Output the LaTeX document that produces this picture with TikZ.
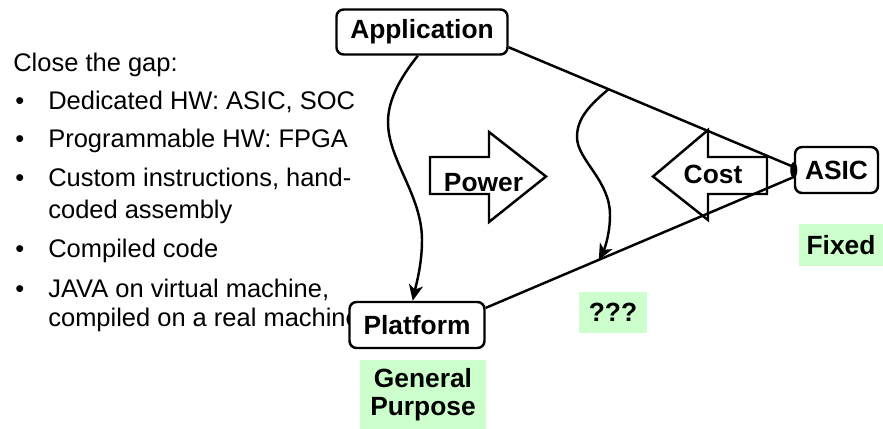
\documentclass[tikz,border=0pt]{standalone}
\usepackage{fontspec}
\setmainfont{Liberation Sans}
\usetikzlibrary{arrows.meta}
\definecolor{gapgreen}{HTML}{CCFFCC}
\begin{document}
\begin{tikzpicture}[x=0.02cm, y=-0.02cm,
  txt/.style={anchor=base west, inner sep=0pt, font=\fontsize{14.5}{17}\selectfont},
  box/.style={draw=black, line width=1.4pt, rounded corners=4pt, fill=white, inner sep=0pt, font=\fontsize{15}{17}\selectfont\bfseries},
  tag/.style={fill=gapgreen, inner sep=0pt, align=center, font=\fontsize{15}{16}\selectfont\bfseries},
  link/.style={line width=1.4pt},
  wavy/.style={line width=1.4pt, -{Stealth[length=9pt, width=8pt, inset=2.5pt]}},
  fat/.style={draw=black, line width=1.4pt, line join=miter}]
\useasboundingbox (0,0) rectangle (883,429);
% left list
\node[txt] (gap) at (13,72) {Close the gap:};
\foreach \y in {110,148,187,257,297}
  \node[txt] (dot\y) at (15,\y) {•};
\node[txt] (i1) at (48,110) {Dedicated HW: ASIC, SOC};
\node[txt] (i2) at (48,148) {Programmable HW: FPGA};
\node[txt] (i3) at (48,187) {Custom instructions, hand-};
\node[txt] (i3b) at (48,218) {coded assembly};
\node[txt] (i4) at (48,257) {Compiled code};
\node[txt] (i5) at (48,297) {JAVA on virtual machine,};
\node[txt] (i5b) at (48,326) {compiled on a real machine};
% the triangle
\node[box, minimum width=3.42cm, minimum height=0.9cm] (app) at (422,32) {Application};
\node[box, minimum width=2.7cm, minimum height=0.92cm] (plat) at (417,325) {Platform};
\node[box, minimum width=1.66cm, minimum height=0.92cm] (asic) at (836.5,170) {ASIC};
\coordinate (meetA) at ([yshift=1.7pt]asic.west);
\coordinate (meetB) at ([yshift=-4pt]asic.west);
\draw[link] (app.-10) -- coordinate[pos=0.35] (drop) (meetA);
\draw[link] (meetB) -- coordinate[pos=0.633] (land) (plat.14);
\fill (asic.west) ellipse (2pt and 4.5pt);
% big arrows
\draw[fat] (430,157) -- (489,157) -- (489,132) -- (546,176.5) -- (489,222) -- (489,194) -- (430,194) -- cycle;
\node[font=\fontsize{15}{17}\selectfont\bfseries, inner sep=0pt] (pow) at (483.5,183) {Power};
\draw[fat] (767,157) -- (708,157) -- (708,130) -- (653,176.5) -- (708,220) -- (708,194) -- (767,194) -- cycle;
\node[font=\fontsize{15}{17}\selectfont\bfseries, inner sep=0pt] (cost) at (713,174) {Cost};
% wavy arrows
\draw[wavy] (app.-100) .. controls (400,78) and (388,100) .. (388,122)
  .. controls (388,160) and (422,195) .. (422,240)
  .. controls (422,265) and (416,285) .. (plat.100);
\draw[wavy] (drop) .. controls (590,105) and (577,118) .. (577,137)
  .. controls (577,160) and (610,180) .. (610,215)
  .. controls (610,235) and (604,250) .. (land);
% labels
\node[tag, minimum width=1.68cm, minimum height=0.84cm] (fixed) at (841,245) {Fixed};
\node[tag, minimum width=1.36cm, minimum height=0.82cm] (what) at (613,312.5) {???};
\node[tag, minimum width=2.52cm, minimum height=1.38cm] (gp) at (423,394.5) {General\\Purpose};
\end{tikzpicture}
\end{document}
